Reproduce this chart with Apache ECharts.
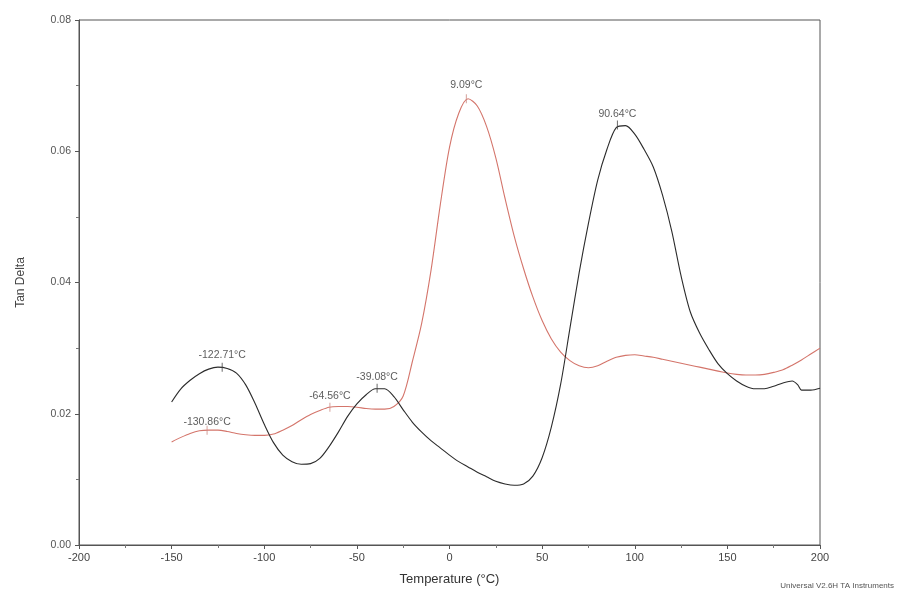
<!DOCTYPE html>
<html>
<head>
<meta charset="utf-8">
<script src="https://cdn.jsdelivr.net/npm/echarts@6/dist/echarts.min.js"></script>
<style>html,body{margin:0;padding:0;background:#fff;}#c{width:901px;height:597px;}</style>
</head>
<body>
<div id="c"></div>
<script>
// Black curve (temperature °C, tan delta)
const blackT = [-150,-145,-140,-135,-130,-125,-120,-115,-110,-105,-100,-95,-90,-85,-80,-75,-70,-65,-60,-55,-50,-45,-40,-35,-30,-25,-20,-15,-10,-5,0,5,10,15,20,25,30,35,40,45,50,55,60,65,70,75,80,85,90,95,100,105,110,115,120,125,130,135,140,145,150,155,160,165,170,175,180,185,188,190,195,200];
const blackV = [0.0218,0.0238,0.0251,0.0261,0.0268,0.0271,0.0269,0.0262,0.0244,0.0216,0.0184,0.0156,0.0137,0.0127,0.0123,0.0124,0.0132,0.0150,0.0172,0.0196,0.0215,0.0229,0.0238,0.0238,0.0226,0.0206,0.0187,0.0172,0.0159,0.0148,0.0137,0.0127,0.0119,0.0111,0.0104,0.0097,0.0093,0.0091,0.0093,0.0105,0.0133,0.0180,0.0245,0.0330,0.0415,0.0490,0.0556,0.0603,0.0636,0.0639,0.0626,0.0603,0.0576,0.0533,0.0478,0.0410,0.0355,0.0323,0.0298,0.0276,0.0261,0.0250,0.0242,0.0238,0.0238,0.0242,0.0247,0.0250,0.0244,0.0236,0.0236,0.0239];
// Red curve
const redT = [-150,-145,-140,-135,-130,-125,-120,-115,-110,-105,-100,-95,-90,-85,-80,-75,-70,-65,-60,-55,-50,-45,-40,-35,-30,-25,-20,-15,-10,-5,0,5,10,15,20,25,30,35,40,45,50,55,60,65,70,75,80,85,90,95,100,105,110,115,120,125,130,135,140,145,150,155,160,165,170,175,180,185,190,195,200];
const redV = [0.0157,0.0164,0.0170,0.0174,0.0175,0.0175,0.0173,0.0170,0.0168,0.0167,0.0167,0.0169,0.0175,0.0182,0.0191,0.0199,0.0205,0.0210,0.0211,0.0211,0.0210,0.0208,0.0207,0.0207,0.0211,0.0227,0.0280,0.0338,0.0418,0.0518,0.0606,0.0658,0.0680,0.0669,0.0638,0.0590,0.0528,0.0470,0.0421,0.0378,0.0342,0.0314,0.0294,0.0281,0.0273,0.0270,0.0273,0.0280,0.0286,0.0289,0.0290,0.0288,0.0286,0.0283,0.0280,0.0277,0.0274,0.0271,0.0268,0.0265,0.0262,0.0260,0.0259,0.0259,0.0260,0.0263,0.0267,0.0274,0.0282,0.0291,0.0300];
// Peak annotations
const peakT = [-122.71,-130.86,-64.56,-39.08,9.09,90.64];
const peakV = [0.0271,0.0175,0.0210,0.0239,0.0680,0.0640];
const peakLabels = ["-122.71°C","-130.86°C","-64.56°C","-39.08°C","9.09°C","90.64°C"];
const peakDist = [2,-2,1,1,4,1];
const peakColors = ["#444","#c98a82","#c98a82","#444","#c98a82","#444"];

const zip = (a,b)=>a.map((x,i)=>[x,b[i]]);
const chart = echarts.init(document.getElementById('c'));
const FONT = 'Liberation Sans, Arial, sans-serif';
chart.setOption({
  animation:false,
  backgroundColor:'#fff',
  title:{
    text:'Universal V2.6H TA Instruments',
    right:2, bottom:2,
    textStyle:{fontSize:8, fontWeight:'normal', color:'#555', fontFamily:FONT}
  },
  grid:{left:79, right:81, top:20, bottom:52, show:true, borderColor:'#555', borderWidth:1},
  xAxis:{
    type:'value', min:-200, max:200, interval:50,
    name:'Temperature (°C)', nameLocation:'middle', nameGap:28,
    nameTextStyle:{fontSize:13, color:'#333', fontFamily:FONT},
    axisLine:{onZero:false, lineStyle:{color:'#555'}},
    axisTick:{show:true, length:4, lineStyle:{color:'#555'}},
    minorTick:{show:true, splitNumber:2, length:3, lineStyle:{color:'#777'}},
    axisLabel:{fontSize:11, color:'#444', margin:7, fontFamily:FONT},
    splitLine:{show:false}
  },
  yAxis:{
    type:'value', min:0, max:0.08, interval:0.02,
    name:'Tan Delta', nameLocation:'middle', nameGap:52, nameRotate:90,
    nameTextStyle:{fontSize:12, color:'#444', fontFamily:FONT},
    axisLine:{show:true, onZero:false, lineStyle:{color:'#555'}},
    axisTick:{show:true, length:4, lineStyle:{color:'#555'}},
    minorTick:{show:true, splitNumber:2, length:3, lineStyle:{color:'#777'}},
    axisLabel:{fontSize:10.5, color:'#555', margin:8, fontFamily:FONT, formatter:v=>v.toFixed(2)},
    splitLine:{show:false}
  },
  series:[
    {type:'line', data:zip(redT,redV), smooth:0.3, showSymbol:false,
     lineStyle:{color:'#d4756b', width:1.1}, z:2},
    {type:'line', data:zip(blackT,blackV), smooth:0.3, showSymbol:false,
     lineStyle:{color:'#2b2b2b', width:1.1}, z:3},
    {type:'scatter', z:4,
     data:peakT.map((t,i)=>({value:[t,peakV[i]],
        itemStyle:{color:peakColors[i]},
        label:{show:true, position:'top', distance:peakDist[i], formatter:peakLabels[i]}})),
     symbol:'rect', symbolSize:[1,9],
     label:{fontSize:10.5, color:'#333', fontFamily:FONT}
    }
  ]
});
</script>
</body>
</html>
